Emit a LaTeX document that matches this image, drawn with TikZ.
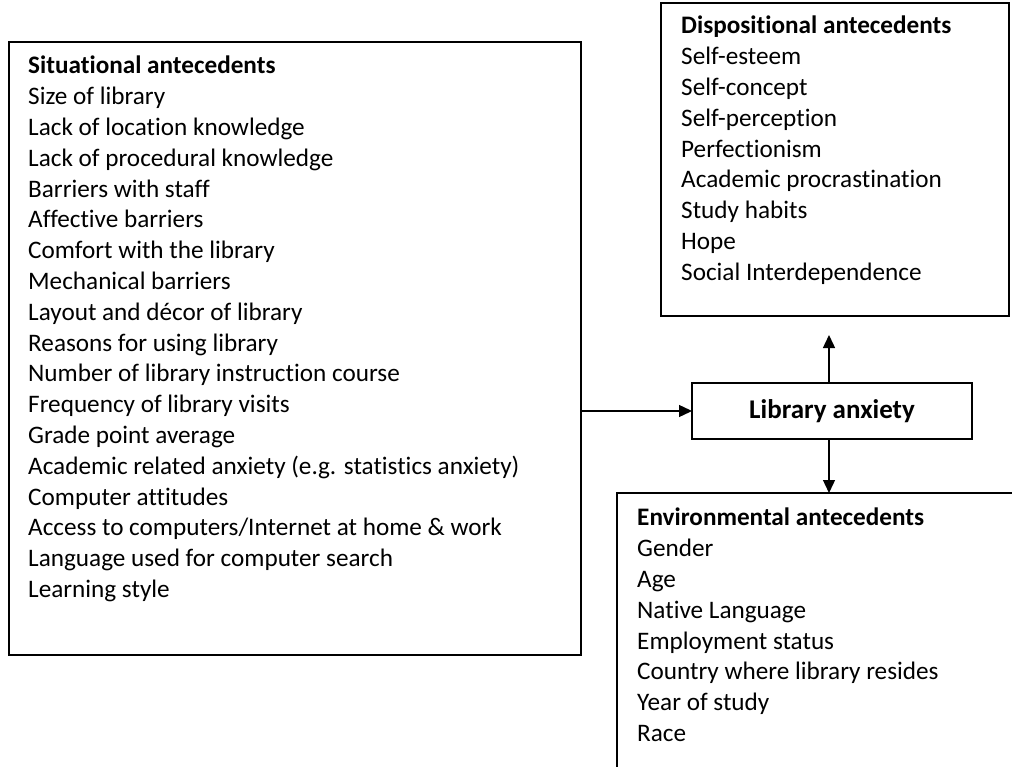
\documentclass[tikz,border=0pt]{standalone}
\usepackage{fontspec}
\setmainfont{Carlito}[Ligatures=CommonOff]
\usetikzlibrary{arrows.meta}
\begin{document}
\begin{tikzpicture}[x=1pt,y=-1pt,
  boxst/.style={draw, line width=1.4pt, inner sep=0pt, outer sep=0pt, anchor=north west},
  txt/.style={inner sep=0pt, anchor=north west, align=left, font=\fontsize{25.2pt}{30.8pt}\selectfont},
  lbl/.style={font=\fontsize{27pt}{32pt}\selectfont\bfseries},
  conn/.style={line width=1.4pt, -{Triangle[length=13pt,width=12pt]}}]
\useasboundingbox (0,0) rectangle (1012,767);
\clip (0,0) rectangle (1012,767);
\fill[white] (0,0) rectangle (1012,767);
% boxes
\node[boxst, minimum width=572pt, minimum height=613pt] (sit) at (9,42) {};
\node[boxst, minimum width=348pt, minimum height=313pt] (disp) at (661,3) {};
\node[boxst, minimum width=280pt, minimum height=56pt] (lib) at (692,383) {};
\node[boxst, minimum width=420pt, minimum height=300pt] (env) at (617,493) {};
% texts
\node[txt] (sittxt) at (28,56) {\textbf{Situational antecedents}\\
Size of library\\
Lack of location knowledge\\
Lack of procedural knowledge\\
Barriers with staff\\
Affective barriers\\
Comfort with the library\\
Mechanical barriers\\
Layout and décor of library\\
Reasons for using library\\
Number of library instruction course\\
Frequency of library visits\\
Grade point average\\
Academic related anxiety (e.g. statistics anxiety)\\
Computer attitudes\\
Access to computers/Internet at home \& work\\
Language used for computer search\\
Learning style};
\node[txt] (disptxt) at (681,16) {\textbf{Dispositional antecedents}\\
Self-esteem\\
Self-concept\\
Self-perception\\
Perfectionism\\
Academic procrastination\\
Study habits\\
Hope\\
Social Interdependence};
\node[txt] (envtxt) at (637,508) {\textbf{Environmental antecedents}\\
Gender\\
Age\\
Native Language\\
Employment status\\
Country where library resides\\
Year of study\\
Race};
\node[lbl] (libtxt) at (lib.center) {Library anxiety};
% connectors
\coordinate (uptip) at (829,335);
\coordinate (dntop) at (lib.south -| uptip);
\draw[conn] (sit.east |- lib.west) -- (lib.west);
\draw[conn] (lib.north -| uptip) -- (uptip);
\draw[conn] (dntop) -- (dntop |- env.north);
\end{tikzpicture}
\end{document}
